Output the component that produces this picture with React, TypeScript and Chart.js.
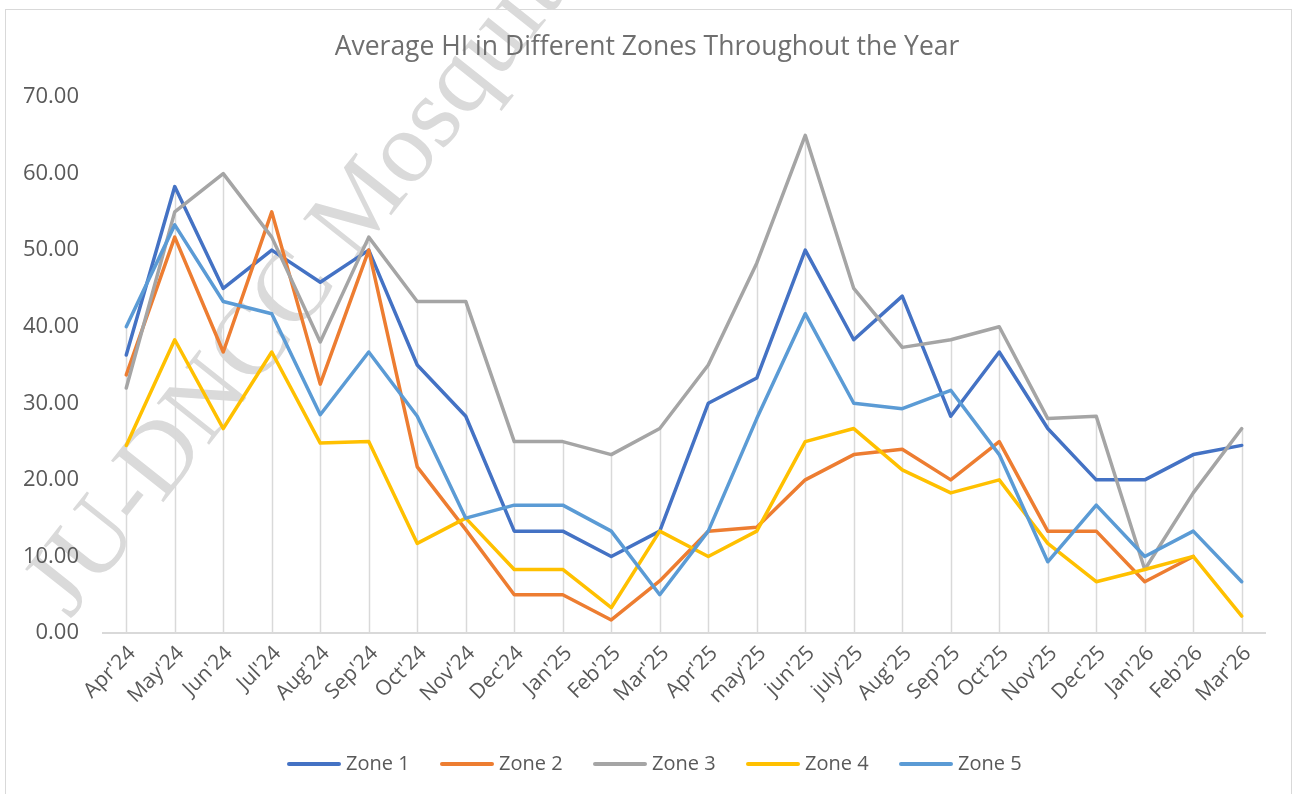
import React, { useEffect, useRef } from "react";
import { Chart, registerables } from "chart.js";

Chart.register(...registerables);

const months = ["Apr'24", "May'24", "Jun'24", "Jul'24", "Aug'24", "Sep'24", "Oct'24", "Nov'24", "Dec'24", "Jan'25", "Feb'25", "Mar'25", "Apr'25", "may'25", "jun'25", "july'25", "Aug'25", "Sep'25", "Oct'25", "Nov'25", "Dec'25", "Jan'26", "Feb'26", "Mar'26"];

const zone1 = [36.3, 58.3, 45.0, 50.0, 45.8, 50.0, 35.0, 28.3, 13.3, 13.3, 10.0, 13.3, 30.0, 33.3, 50.0, 38.3, 44.0, 28.3, 36.7, 26.7, 20.0, 20.0, 23.3, 24.5];
const zone2 = [33.7, 51.7, 36.7, 55.0, 32.5, 50.0, 21.7, 13.5, 5.0, 5.0, 1.7, 6.8, 13.3, 13.8, 20.0, 23.3, 24.0, 20.0, 25.0, 13.3, 13.3, 6.7, 10.0, null];
const zone3 = [32.0, 55.0, 60.0, 51.7, 38.0, 51.7, 43.3, 43.3, 25.0, 25.0, 23.3, 26.7, 35.0, 48.3, 65.0, 45.0, 37.3, 38.3, 40.0, 28.0, 28.3, 8.3, 18.3, 26.7];
const zone4 = [24.5, 38.3, 26.7, 36.7, 24.8, 25.0, 11.7, 15.0, 8.3, 8.3, 3.3, 13.3, 10.0, 13.3, 25.0, 26.7, 21.3, 18.3, 20.0, 11.7, 6.7, 8.3, 10.0, 2.2];
const zone5 = [40.0, 53.3, 43.3, 41.7, 28.5, 36.7, 28.3, 15.0, 16.7, 16.7, 13.3, 5.0, 13.3, 28.0, 41.7, 30.0, 29.3, 31.7, 23.3, 9.3, 16.7, 10.0, 13.3, 6.7];

const seriesNames = ["Zone 1", "Zone 2", "Zone 3", "Zone 4", "Zone 5"];
const seriesColors = ["#4472C4", "#ED7D31", "#A5A5A5", "#FFC000", "#5B9BD5"];
const seriesValues = [zone1, zone2, zone3, zone4, zone5];

const titleText = "Average HI in Different Zones Throughout the Year";
const watermarkText = "JU-DNCC Mosquitoes";
const yTicks = [0, 10, 20, 30, 40, 50, 60, 70];

const FONT = "'Open Sans', 'Noto Sans', sans-serif";

const framePlugin = {
  id: "framePlugin",
  beforeDraw(chart: any) {
    const ctx = chart.ctx;
    ctx.save();
    ctx.fillStyle = "#ffffff";
    ctx.fillRect(0, 0, chart.width, chart.height);
    ctx.strokeStyle = "#d9d9d9";
    ctx.lineWidth = 1;
    ctx.strokeRect(5.5, 9.5, 1286, chart.height + 10);
    // watermark
    ctx.translate(70, 620);
    ctx.rotate(-0.9);
    ctx.fillStyle = "#dadada";
    ctx.font = "102px 'Liberation Serif', 'DejaVu Serif', serif";
    ctx.textBaseline = "alphabetic";
    ctx.fillText(watermarkText, 0, 0);
    ctx.restore();
  },
  beforeDatasetsDraw(chart: any) {
    const ctx = chart.ctx;
    const x = chart.scales.x;
    const y = chart.scales.y;
    ctx.save();
    ctx.strokeStyle = "#d9d9d9";
    ctx.lineWidth = 1.5;
    months.forEach((_, i) => {
      let top = 0;
      seriesValues.forEach((s) => {
        const v = s[i];
        if (v != null && v > top) top = v;
      });
      const px = Math.round(x.getPixelForValue(i)) + 0.5;
      ctx.beginPath();
      ctx.moveTo(px, y.getPixelForValue(0));
      ctx.lineTo(px, y.getPixelForValue(top));
      ctx.stroke();
    });
    ctx.lineWidth = 2;
    ctx.beginPath();
    const y0 = y.getPixelForValue(0);
    ctx.moveTo(chart.chartArea.left, y0);
    ctx.lineTo(chart.chartArea.right, y0);
    ctx.stroke();
    ctx.restore();
  },
  afterDraw(chart: any) {
    const ctx = chart.ctx;
    ctx.save();
    // title
    ctx.font = `26.5px ${FONT}`;
    ctx.fillStyle = "#6f6f6f";
    ctx.textAlign = "center";
    ctx.textBaseline = "middle";
    ctx.fillText(titleText, 647, 47);
    // legend
    const startX = 287;
    const step = 153;
    const yc = 764;
    ctx.font = `20px ${FONT}`;
    ctx.textBaseline = "middle";
    ctx.textAlign = "left";
    seriesNames.forEach((name, i) => {
      const x0 = startX + i * step;
      ctx.strokeStyle = seriesColors[i];
      ctx.lineWidth = 4;
      ctx.lineCap = "round";
      ctx.beginPath();
      ctx.moveTo(x0 + 2, yc);
      ctx.lineTo(x0 + 52, yc);
      ctx.stroke();
      ctx.fillStyle = "#595959";
      ctx.fillText(name, x0 + 59, yc);
    });
    ctx.restore();
  },
};

export default function App() {
  const ref = useRef<HTMLCanvasElement | null>(null);
  useEffect(() => {
    if (!ref.current) return;
    const chart = new Chart(ref.current, {
      type: "line",
      data: {
        labels: months,
        datasets: seriesNames.map((name, i) => ({
          label: name,
          data: seriesValues[i],
          borderColor: seriesColors[i],
          backgroundColor: seriesColors[i],
          borderWidth: 3.5,
          pointRadius: 0,
          pointHoverRadius: 0,
          tension: 0,
          fill: false,
          spanGaps: false,
          borderJoinStyle: "round" as const,
          borderCapStyle: "round" as const,
          order: seriesNames.length - i,
        })),
      },
      options: {
        responsive: false,
        animation: false,
        layout: { padding: { left: 0, right: 27, top: 97, bottom: 51 } },
        plugins: {
          tooltip: { enabled: false },
          legend: { display: false },
          title: { display: false },
        },
        scales: {
          x: {
            offset: true,
            grid: { display: false, drawTicks: false },
            border: { display: false },
            ticks: {
              color: "#595959",
              font: { family: FONT, size: 21 },
              maxRotation: 45,
              minRotation: 45,
              padding: 8,
              labelOffset: 6,
              autoSkip: false,
            },
            afterFit: (scale: any) => {
              scale.height = 110;
            },
          },
          y: {
            min: 0,
            max: 70,
            grid: { display: false, drawTicks: false },
            border: { display: false },
            afterBuildTicks: (scale: any) => {
              scale.ticks = yTicks.map((v) => ({ value: v }));
            },
            ticks: {
              color: "#595959",
              font: { family: FONT, size: 22 },
              padding: 23,
              callback: (v: any) => Number(v).toFixed(2),
            },
            afterFit: (scale: any) => {
              scale.width = 102;
            },
          },
        },
      },
      plugins: [framePlugin],
    });
    return () => chart.destroy();
  }, []);
  return (
    <div style={{ position: "absolute", left: 0, top: 0, width: 1293, height: 794 }}>
      <canvas ref={ref} width={1293} height={794} style={{ display: "block" }} />
    </div>
  );
}
